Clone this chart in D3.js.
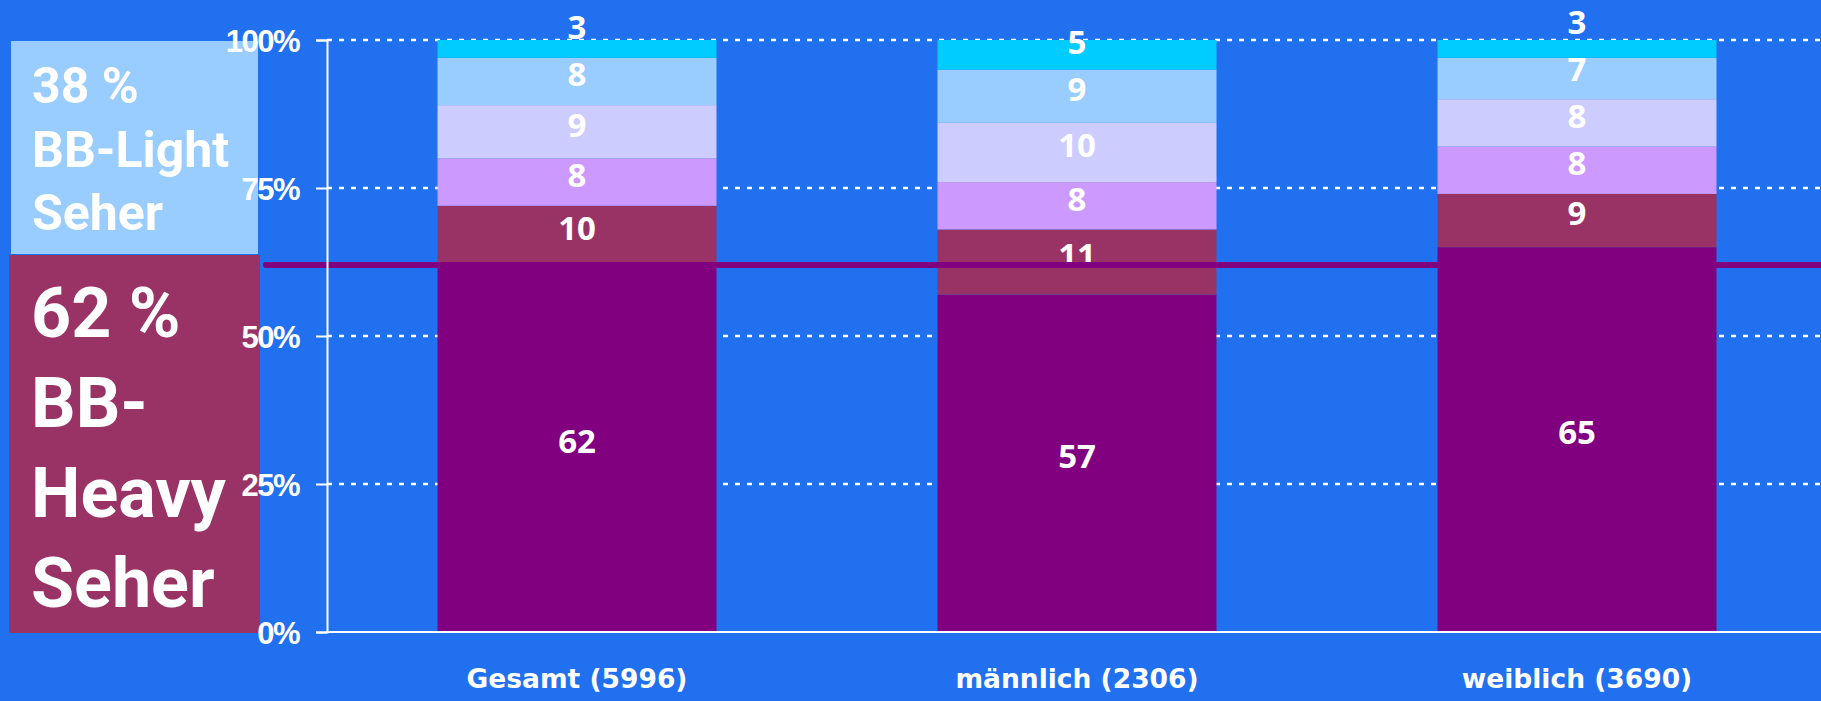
<!DOCTYPE html>
<html>
<head>
<meta charset="utf-8">
<script src="https://cdn.jsdelivr.net/npm/d3@7"></script>
<style>
  html, body { margin: 0; padding: 0; background: #2170F0; }
  svg { display: block; }
</style>
</head>
<body>
<svg id="chart" width="1821" height="701"></svg>
<script>
// Daten
const categories = ["Gesamt (5996)", "männlich (2306)", "weiblich (3690)"];
const seriesNames = ["s1", "s2", "s3", "s4", "s5", "s6"];
const s1 = [62, 57, 65];
const s2 = [10, 11, 9];
const s3 = [8, 8, 8];
const s4 = [9, 10, 8];
const s5 = [8, 9, 7];
const s6 = [3, 5, 3];
const colors = ["#800080", "#993366", "#CC99FF", "#CCCCFF", "#99CCFF", "#00CCFF"];
const yTicks = [0, 25, 50, 75, 100];
const refLine = 62;
const lightText = ["38 %", "BB-Light", "Seher"];
const heavyText = ["62 %", "BB-", "Heavy", "Seher"];

const W = 1821, H = 701;
const svg = d3.select("#chart");

const rows = categories.map(function(c, i){
  return {cat: c, s1: s1[i], s2: s2[i], s3: s3[i], s4: s4[i], s5: s5[i], s6: s6[i]};
});
const stacked = d3.stack().keys(seriesNames)(rows);

const x = d3.scaleBand().domain(categories).range([327, 1827]).paddingInner(0.442).paddingOuter(0.221);
const y = d3.scaleLinear().domain([0, 100]).range([632, 40]);

// Gitterlinien
svg.append("g").selectAll("line")
  .data(yTicks.filter(d => d > 0))
  .enter().append("line")
  .attr("x1", 327).attr("x2", W)
  .attr("y1", d => y(d)).attr("y2", d => y(d))
  .attr("stroke", "white").attr("stroke-width", 2.5)
  .attr("stroke-dasharray", "5,7");

// Balken
svg.append("g").selectAll("g")
  .data(stacked)
  .enter().append("g")
  .attr("fill", (d, i) => colors[i])
  .selectAll("rect")
  .data(d => d)
  .enter().append("rect")
  .attr("x", d => x(d.data.cat))
  .attr("width", x.bandwidth())
  .attr("y", d => y(d[1]))
  .attr("height", d => y(d[0]) - y(d[1]));

// Y-Achse
const yAxis = svg.append("g")
  .attr("transform", "translate(327,0)")
  .call(d3.axisLeft(y).tickValues(yTicks).tickFormat(d => d + "%").tickSize(11).tickPadding(17));
yAxis.select(".domain").attr("stroke", "white").attr("stroke-width", 2);
yAxis.selectAll(".tick line").attr("stroke", "white").attr("stroke-width", 2);
yAxis.selectAll(".tick text")
  .attr("fill", "white")
  .attr("dy", "0.36em")
  .style("font-family", "'Liberation Sans', Arial, sans-serif")
  .style("font-weight", "bold")
  .style("font-size", "31px")
  .style("letter-spacing", "-1.5px");

// X-Achse
const xAxis = svg.append("g")
  .attr("transform", "translate(0,632)")
  .call(d3.axisBottom(x).tickSize(0).tickPadding(46));
xAxis.select(".domain").attr("stroke", "white").attr("stroke-width", 2)
  .attr("d", "M327,0H" + W);
xAxis.selectAll(".tick text")
  .attr("fill", "white")
  .attr("dy", "0.36em")
  .style("font-family", "'DejaVu Sans', Verdana, sans-serif")
  .style("font-weight", "bold")
  .style("font-size", "26.5px");

// Werte-Beschriftungen (von unten nach oben, Überlappung vermeiden)
const labels = [];
categories.forEach(function(c, ci){
  let prev = Infinity;
  stacked.forEach(function(layer){
    const d = layer[ci];
    let ly = (y(d[0]) + y(d[1])) / 2 - 7;
    if (ly > prev - 47) ly = prev - 47;
    prev = ly;
    labels.push({cat: c, v: d[1] - d[0], y: ly});
  });
});

svg.append("g").selectAll("text")
  .data(labels)
  .enter().append("text")
  .attr("x", d => x(d.cat) + x.bandwidth() / 2)
  .attr("y", d => d.y)
  .attr("dy", "0.36em")
  .attr("text-anchor", "middle")
  .attr("fill", "white")
  .style("font-family", "'Open Sans', sans-serif")
  .style("font-weight", 700)
  .style("font-size", "33px")
  .text(d => d.v);

// Linie bei 62 %
svg.append("line")
  .attr("x1", 266).attr("x2", W + 10)
  .attr("y1", y(refLine)).attr("y2", y(refLine))
  .attr("stroke", "#800080").attr("stroke-width", 6)
  .attr("stroke-linecap", "round");

// Kästen links
svg.append("rect").attr("x", 11).attr("y", 41).attr("width", 247).attr("height", 213).attr("fill", "#99CCFF");
svg.append("rect").attr("x", 9).attr("y", 255).attr("width", 251).attr("height", 378).attr("fill", "#993366");

svg.append("g").selectAll("text")
  .data(lightText)
  .enter().append("text")
  .attr("x", 32)
  .attr("y", (d, i) => 103 + i * 63.5)
  .attr("fill", "white")
  .style("font-family", "Roboto, sans-serif")
  .style("font-weight", 700)
  .style("font-size", "50px")
  .text(d => d);

svg.append("g").selectAll("text")
  .data(heavyText)
  .enter().append("text")
  .attr("x", 31)
  .attr("y", (d, i) => 337 + i * 90)
  .attr("fill", "white")
  .style("font-family", "Roboto, sans-serif")
  .style("font-weight", 700)
  .style("font-size", "70px")
  .text(d => d);

// Achsenbeschriftungen über die Kästen legen
yAxis.raise();
</script>
</body>
</html>
